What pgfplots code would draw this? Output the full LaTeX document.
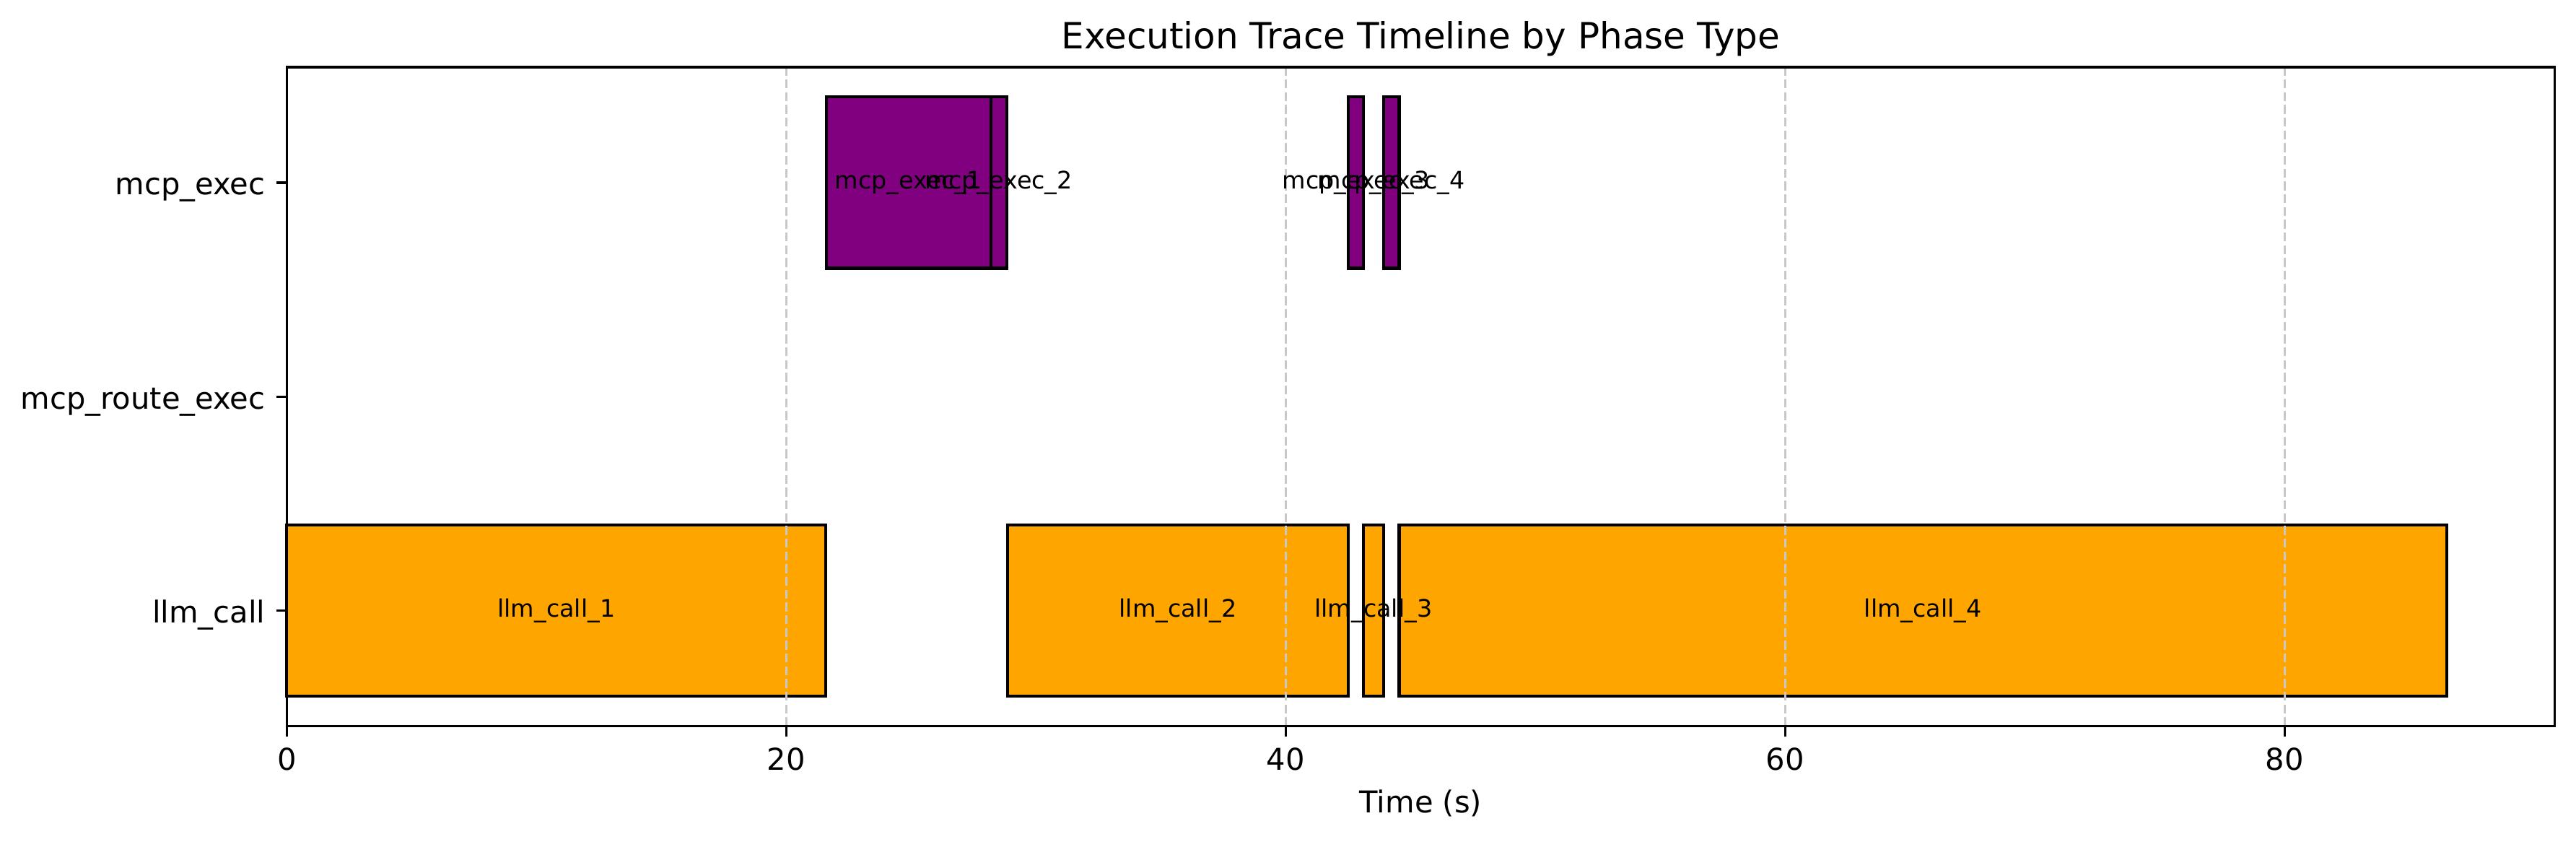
\documentclass[border=0pt]{standalone}
\usepackage{fontspec}
\setmainfont{DejaVu Sans}
\usepackage{pgfplots}
\usepackage{pgfplotstable}
\pgfplotsset{compat=1.18}
\definecolor{barorange}{HTML}{FFA500}
\definecolor{barpurple}{HTML}{800080}
\definecolor{gridgray}{HTML}{C8C8C8}

\pgfplotstableread{
x y label
10.795 0 llm\_call\_1
35.68 0 llm\_call\_2
43.51 0 llm\_call\_3
65.515 0 llm\_call\_4
24.90 2 mcp\_exec\_1
28.51 2 mcp\_exec\_2
42.81 2 mcp\_exec\_3
44.225 2 mcp\_exec\_4
}\labeltable

\begin{document}
\begin{tikzpicture}
\begin{axis}[
  at={(0,0)}, anchor=south west,
  scale only axis,
  width=754.1pt, height=219.1pt,
  set layers,
  xmin=0, xmax=90.81,
  ymin=-0.54, ymax=2.54,
  xtick={0,20,40,60,80},
  ytick={0,1,2},
  yticklabels={llm\_call, mcp\_route\_exec, mcp\_exec},
  xtick pos=bottom, ytick pos=left,
  tick align=outside,
  major tick length=3.5pt,
  every tick/.style={black, line width=0.8pt},
  axis line style={black, line width=0.8pt},
  /pgf/number format/assume math mode=true,
  xticklabel style={font=\fontsize{10}{12}\selectfont, anchor=north, inner sep=0pt, yshift=-3.5pt},
  yticklabel style={font=\fontsize{10}{12}\selectfont, anchor=base east, inner sep=0pt, xshift=-3.5pt, yshift=-4pt},
  xmajorgrids, ymajorgrids=false,
  major grid style={gridgray, line width=0.8pt, dash pattern=on 2.96pt off 1.28pt},
  xlabel={Time (s)},
  xlabel style={at={(rel axis cs:0.5,0)}, anchor=center, yshift=-25.7pt, font=\fontsize{10}{12}\selectfont, inner sep=0pt},
  title={Execution Trace Timeline by Phase Type},
  title style={at={(rel axis cs:0.5,1)}, anchor=base, yshift=0.2pt, font=\fontsize{12}{14}\selectfont, inner sep=0pt},
  barpath/.style={draw=black, line width=1pt, on layer=axis background},
]
% llm_call bars (row 0)
\addplot[barpath, fill=barorange] coordinates {(0,-0.4) (21.59,-0.4) (21.59,0.4) (0,0.4)} --cycle;
\addplot[barpath, fill=barorange] coordinates {(28.86,-0.4) (42.51,-0.4) (42.51,0.4) (28.86,0.4)} --cycle;
\addplot[barpath, fill=barorange] coordinates {(43.11,-0.4) (43.91,-0.4) (43.91,0.4) (43.11,0.4)} --cycle;
\addplot[barpath, fill=barorange] coordinates {(44.54,-0.4) (86.49,-0.4) (86.49,0.4) (44.54,0.4)} --cycle;
% mcp_exec bars (row 2)
\addplot[barpath, fill=barpurple] coordinates {(21.61,1.6) (28.19,1.6) (28.19,2.4) (21.61,2.4)} --cycle;
\addplot[barpath, fill=barpurple] coordinates {(28.19,1.6) (28.84,1.6) (28.84,2.4) (28.19,2.4)} --cycle;
\addplot[barpath, fill=barpurple] coordinates {(42.51,1.6) (43.11,1.6) (43.11,2.4) (42.51,2.4)} --cycle;
\addplot[barpath, fill=barpurple] coordinates {(43.91,1.6) (44.54,1.6) (44.54,2.4) (43.91,2.4)} --cycle;
% labels
\addplot[only marks, mark=*, mark size=0pt, mark options={draw=none, fill=none},
  nodes near coords, point meta=explicit symbolic,
  nodes near coords align={center},
  every node near coord/.append style={anchor=center, inner sep=0pt, text=black, font=\fontsize{8}{9.6}\selectfont}]
  table[x=x, y=y, meta=label] {\labeltable};
\end{axis}
\pgfresetboundingbox
\path (-95.35pt,-38.4pt) rectangle (761.2pt,241.4pt);
\end{tikzpicture}
\end{document}
